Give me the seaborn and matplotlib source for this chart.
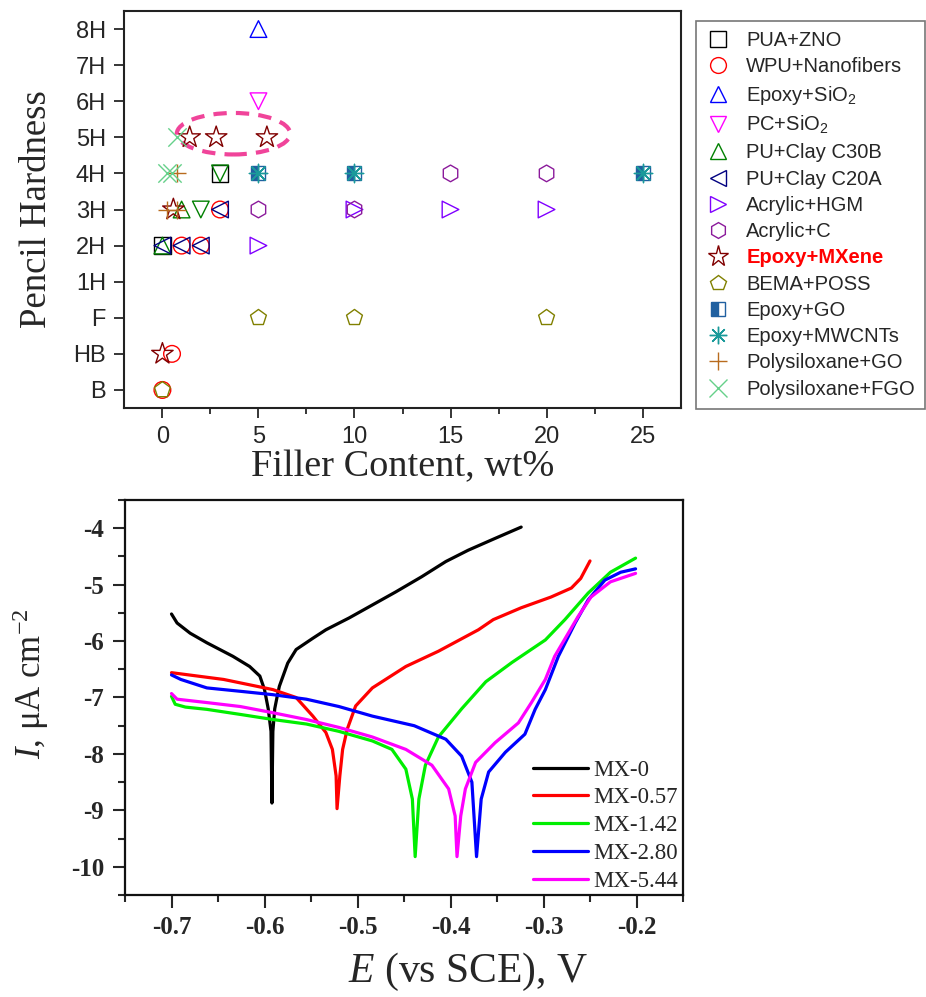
import matplotlib
matplotlib.use("Agg")
import matplotlib.pyplot as plt
from matplotlib.lines import Line2D
from matplotlib.patches import Ellipse
import seaborn as sns
import pandas as pd

sns.set_style("ticks")
plt.rcParams["font.family"] = ["Liberation Sans", "DejaVu Sans"]
plt.rcParams["mathtext.fontset"] = "custom"
plt.rcParams["mathtext.rm"] = "Liberation Serif"
plt.rcParams["mathtext.it"] = "Liberation Serif:italic"
plt.rcParams["mathtext.bf"] = "Liberation Serif:bold"

# ---------------- pencil hardness data ----------------
hardness_levels = ["B", "HB", "F", "1H", "2H", "3H", "4H", "5H", "6H", "7H", "8H"]

pua_zno_x = [0, 3]
pua_zno_y = ["2H", "4H"]
wpu_nanofiber_x = [0, 0.5, 1, 2, 3]
wpu_nanofiber_y = ["B", "HB", "2H", "2H", "3H"]
epoxy_sio2_x = [5]
epoxy_sio2_y = ["8H"]
pc_sio2_x = [5]
pc_sio2_y = ["6H"]
pu_c30b_x = [0, 1]
pu_c30b_y = ["2H", "3H"]
pu_c30b_alt_x = [2, 3]
pu_c30b_alt_y = ["3H", "4H"]
pu_c20a_x = [0, 1, 2, 3]
pu_c20a_y = ["2H", "2H", "2H", "3H"]
acrylic_hgm_x = [5, 10, 15, 20]
acrylic_hgm_y = ["2H", "3H", "3H", "3H"]
acrylic_c_x = [5, 10, 15, 20]
acrylic_c_y = ["3H", "3H", "4H", "4H"]
epoxy_mxene_x = [0, 0.57, 1.42, 2.80, 5.44]
epoxy_mxene_y = ["HB", "3H", "5H", "5H", "5H"]
bema_poss_x = [0, 5, 10, 20]
bema_poss_y = ["B", "F", "F", "F"]
epoxy_go_x = [5, 10, 25]
epoxy_go_y = ["4H", "4H", "4H"]
epoxy_mwcnt_x = [5, 10, 25]
epoxy_mwcnt_y = ["4H", "4H", "4H"]
polysiloxane_go_x = [0.25, 0.75, 0.75]
polysiloxane_go_y = ["3H", "3H", "4H"]
polysiloxane_fgo_x = [0.25, 0.5, 0.75]
polysiloxane_fgo_y = ["4H", "4H", "5H"]

# highlighted MXene group (centre, width, height in data units)
mxene_ring = (3.7, 7.1, 5.9, 1.15)

# ---------------- polarization data ----------------
mx0_E = [-0.700, -0.694, -0.680, -0.662, -0.634, -0.616, -0.605, -0.600, -0.596, -0.593, -0.592,
         -0.591, -0.589, -0.586, -0.584, -0.575, -0.566, -0.548, -0.534, -0.509, -0.484, -0.459,
         -0.431, -0.405, -0.381, -0.352, -0.324]
mx0_I = [-5.52, -5.68, -5.86, -6.03, -6.27, -6.45, -6.62, -6.86, -7.20, -7.60, -8.87,
         -7.60, -7.20, -6.95, -6.80, -6.39, -6.15, -5.95, -5.80, -5.59, -5.36, -5.13,
         -4.86, -4.59, -4.39, -4.18, -3.98]

mx057_E = [-0.700, -0.644, -0.591, -0.566, -0.548, -0.534, -0.527, -0.523, -0.522,
           -0.519, -0.516, -0.511, -0.502, -0.484, -0.448, -0.413, -0.370, -0.354, -0.324,
           -0.292, -0.270, -0.260, -0.250]
mx057_I = [-6.56, -6.68, -6.86, -7.00, -7.33, -7.62, -7.92, -8.39, -8.97,
           -8.39, -7.92, -7.56, -7.15, -6.83, -6.45, -6.18, -5.80, -5.62, -5.41,
           -5.22, -5.06, -4.89, -4.58]

mx142_E = [-0.700, -0.696, -0.685, -0.662, -0.626, -0.591, -0.555, -0.520, -0.484, -0.463,
           -0.448, -0.441, -0.438, -0.434, -0.427, -0.413, -0.388, -0.362, -0.334, -0.298,
           -0.277, -0.252, -0.228, -0.201]
mx142_I = [-6.98, -7.12, -7.17, -7.21, -7.30, -7.39, -7.47, -7.60, -7.77, -7.92,
           -8.27, -8.80, -9.82, -8.80, -8.20, -7.70, -7.20, -6.72, -6.38, -5.98,
           -5.62, -5.15, -4.78, -4.53]

mx280_E = [-0.700, -0.690, -0.662, -0.626, -0.591, -0.555, -0.520, -0.484, -0.439, -0.405,
           -0.388, -0.377, -0.372, -0.367, -0.359, -0.341, -0.320, -0.309, -0.298, -0.284,
           -0.266, -0.252, -0.234, -0.217, -0.201]
mx280_I = [-6.60, -6.68, -6.83, -6.89, -6.95, -7.03, -7.16, -7.33, -7.50, -7.74,
           -8.04, -8.50, -9.82, -8.80, -8.32, -7.97, -7.65, -7.21, -6.86, -6.27,
           -5.68, -5.27, -4.92, -4.78, -4.72]

mx544_E = [-0.700, -0.694, -0.662, -0.626, -0.591, -0.555, -0.520, -0.484, -0.448, -0.420,
           -0.402, -0.395, -0.393, -0.389, -0.384, -0.373, -0.352, -0.327, -0.313, -0.298,
           -0.288, -0.263, -0.249, -0.228, -0.201]
mx544_I = [-6.93, -7.03, -7.09, -7.16, -7.27, -7.39, -7.53, -7.70, -7.92, -8.20,
           -8.62, -9.10, -9.82, -9.10, -8.62, -8.15, -7.80, -7.45, -7.09, -6.68,
           -6.27, -5.57, -5.22, -4.95, -4.80]

curve_labels = ["MX-0", "MX-0.57", "MX-1.42", "MX-2.80", "MX-5.44"]
curve_colors = ["#000000", "#FF0000", "#00EE00", "#0000FF", "#FF00FF"]

fig = plt.figure(figsize=(9.26, 9.97), dpi=100)
W, H = 926, 997
ax1 = fig.add_axes([124 / W, 1 - 408 / H, 557 / W, 397 / H])
ax2 = fig.add_axes([125 / W, 1 - 895 / H, 558 / W, 395 / H])

level_index = {name: i for i, name in enumerate(hardness_levels)}

def level(vals):
    return [level_index[v] for v in vals]

MS = 12  # marker size in points
series = [
    ("PUA+ZNO", pua_zno_x, pua_zno_y, "s", "#000000"),
    ("WPU+Nanofibers", wpu_nanofiber_x, wpu_nanofiber_y, "o", "#FF0000"),
    ("Epoxy+SiO$\\mathregular{_2}$", epoxy_sio2_x, epoxy_sio2_y, "^", "#0000FF"),
    ("PC+SiO$\\mathregular{_2}$", pc_sio2_x, pc_sio2_y, "v", "#FF00FF"),
    ("PU+Clay C30B", pu_c30b_x, pu_c30b_y, "^", "#008000"),
    ("PU+Clay C20A", pu_c20a_x, pu_c20a_y, "<", "#000080"),
    ("Acrylic+HGM", acrylic_hgm_x, acrylic_hgm_y, ">", "#8000FF"),
    ("Acrylic+C", acrylic_c_x, acrylic_c_y, "h", "#8B1A9B"),
    ("Epoxy+MXene", epoxy_mxene_x, epoxy_mxene_y, "*", "#800000"),
    ("BEMA+POSS", bema_poss_x, bema_poss_y, "p", "#808000"),
]

handles = []
labels = []
for name, xs, ys, mk, col in series:
    size = MS * (1.35 if mk == "*" else 1.0)
    sns.scatterplot(x=xs, y=level(ys), ax=ax1, marker=mk, s=size ** 2,
                    facecolors="none", edgecolor=col, linewidth=1.0, zorder=3)
    handles.append(Line2D([], [], ls="none", marker=mk, markersize=size * 0.95,
                          markerfacecolor="none", markeredgecolor=col, markeredgewidth=1.0))
    labels.append(name)

# PU+Clay C30B samples drawn with inverted triangles
sns.scatterplot(x=pu_c30b_alt_x, y=level(pu_c30b_alt_y), ax=ax1, marker="v", s=MS ** 2,
                facecolors="none", edgecolor="#008000", linewidth=1.0, zorder=3)

# Epoxy+GO: half-filled squares
go_df = pd.DataFrame({"x": epoxy_go_x, "y": level(epoxy_go_y)})
sns.lineplot(data=go_df, x="x", y="y", ax=ax1, estimator=None, sort=False,
             linestyle="", marker="s", markersize=MS * 0.85, fillstyle="left",
             markerfacecolor="#2060A0", markerfacecoloralt="white",
             markeredgecolor="#2060A0", markeredgewidth=1.0, zorder=3)
handles.append(Line2D([], [], ls="none", marker="s", markersize=MS * 0.8, fillstyle="left",
                      markerfacecolor="#2060A0", markerfacecoloralt="white",
                      markeredgecolor="#2060A0", markeredgewidth=1.0))
labels.append("Epoxy+GO")

asterisk = (8, 2, 0)
line_series = [
    ("Epoxy+MWCNTs", epoxy_mwcnt_x, epoxy_mwcnt_y, asterisk, "#1A9A9A"),
    ("Polysiloxane+GO", polysiloxane_go_x, polysiloxane_go_y, "+", "#B86B1E"),
    ("Polysiloxane+FGO", polysiloxane_fgo_x, polysiloxane_fgo_y, "x", "#66D08A"),
]
for name, xs, ys, mk, col in line_series:
    sns.scatterplot(x=xs, y=level(ys), ax=ax1, marker=mk, s=(MS * 1.1) ** 2,
                    color=col, linewidth=1.0, zorder=4)
    handles.append(Line2D([], [], ls="none", marker=mk, markersize=MS * 1.05,
                          color=col, markeredgewidth=1.0))
    labels.append(name)

cx, cy, ew, eh = mxene_ring
ax1.add_patch(Ellipse((cx, cy), ew, eh, fill=False, edgecolor="#F0449A",
                      linestyle=(0, (3.2, 2.2)), linewidth=3.0, zorder=2))

ax1.set_xlim(-2, 27)
ax1.set_ylim(-0.5, 10.5)
ax1.set_xticks([0, 5, 10, 15, 20, 25])
ax1.set_xticks([2.5, 7.5, 12.5, 17.5, 22.5], minor=True)
ax1.set_yticks(range(len(hardness_levels)))
ax1.set_yticklabels(hardness_levels)
ax1.tick_params(axis="both", which="major", direction="out", length=7, width=1.3,
                labelsize=17, pad=6)
ax1.tick_params(axis="x", which="minor", direction="out", length=4, width=1.3)
for sp in ax1.spines.values():
    sp.set_linewidth(1.5)
    sp.set_color("#222222")
ax1.set_xlabel("Filler Content, wt%", fontsize=27.5, family="Liberation Serif", labelpad=1)
ax1.set_ylabel("Pencil Hardness", fontsize=26.5, family="Liberation Serif", labelpad=14)

leg = fig.legend(handles, labels, loc="upper left", bbox_to_anchor=(696 / W, 1 - 21 / H),
                 bbox_transform=fig.transFigure, frameon=True, fancybox=False,
                 edgecolor="#555555", fontsize=14.5, handlelength=1.2, handletextpad=0.8,
                 labelspacing=0.36, borderpad=0.5, borderaxespad=0)
leg.get_frame().set_linewidth(1.2)
for t in leg.get_texts():
    if t.get_text() == "Epoxy+MXene":
        t.set_color("#FF0000")
        t.set_fontweight("bold")

# ---------------- polarization curves ----------------
curves = [(mx0_E, mx0_I), (mx057_E, mx057_I), (mx142_E, mx142_I),
          (mx280_E, mx280_I), (mx544_E, mx544_I)]
for (E, I), lab, col in zip(curves, curve_labels, curve_colors):
    df = pd.DataFrame({"E": E, "I": I})
    sns.lineplot(data=df, x="E", y="I", ax=ax2, estimator=None, sort=False,
                 color=col, linewidth=2.3, label=lab)

ax2.set_xlim(-0.75, -0.15)
ax2.set_ylim(-10.5, -3.5)
ax2.set_xticks([-0.7, -0.6, -0.5, -0.4, -0.3, -0.2])
ax2.set_xticks([-0.75, -0.65, -0.55, -0.45, -0.35, -0.25, -0.15], minor=True)
ax2.set_yticks([-10, -9, -8, -7, -6, -5, -4])
ax2.set_yticks([-10.5, -9.5, -8.5, -7.5, -6.5, -5.5, -4.5, -3.5], minor=True)
ax2.tick_params(axis="both", which="major", direction="out", length=9, width=1.5,
                labelsize=18, pad=6)
ax2.tick_params(axis="both", which="minor", direction="out", length=5, width=1.5)
ax2.set_xticklabels(["-0.7", "-0.6", "-0.5", "-0.4", "-0.3", "-0.2"])
ax2.set_yticklabels(["-10", "-9", "-8", "-7", "-6", "-5", "-4"])
for lab in ax2.get_xticklabels() + ax2.get_yticklabels():
    lab.set_family("Liberation Serif")
    lab.set_fontweight("bold")
    lab.set_fontsize(18)
for sp in ax2.spines.values():
    sp.set_linewidth(1.6)
    sp.set_color("#111111")
ax2.set_xlabel("$\\mathit{E}$ (vs SCE), V", fontsize=30, family="Liberation Serif", labelpad=9)
ax2.xaxis.label.set_x(0.615)
ax2.set_ylabel("$\\mathit{I}$, μA cm$\\mathregular{^{-2}}$", fontsize=25,
               family="Liberation Serif", labelpad=14)
ax2.yaxis.label.set_y(0.534)

leg2 = ax2.legend(loc="lower right", bbox_to_anchor=(1.012, -0.022), frameon=False,
                  prop={"family": "Liberation Serif", "size": 16.5},
                  handlelength=2.4, handletextpad=0.25, labelspacing=0.3,
                  borderaxespad=0.1)
for ln in leg2.get_lines():
    ln.set_linewidth(2.3)

fig.savefig("out.png", dpi=100)
